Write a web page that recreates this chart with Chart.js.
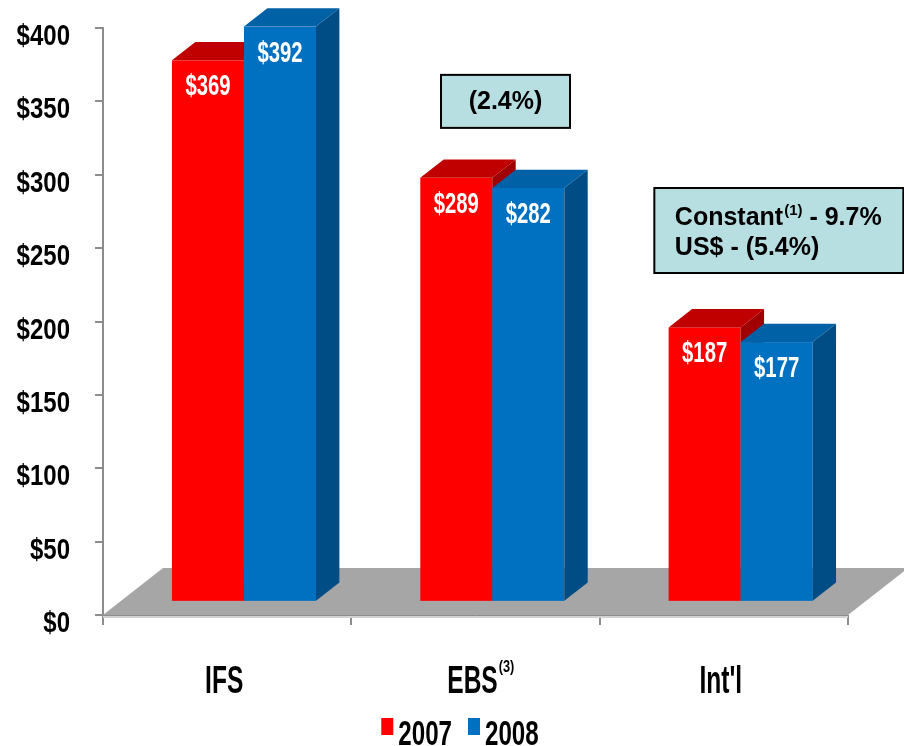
<!DOCTYPE html>
<html>
<head>
<meta charset="utf-8">
<script src="https://cdn.jsdelivr.net/npm/chart.js@4.4.1/dist/chart.umd.min.js"></script>
<style>
  html, body { margin: 0; padding: 0; background: #fff; }
  #wrap { width: 904px; height: 746px; }
</style>
</head>
<body>
<div id="wrap"><canvas id="grafico"></canvas></div>
<script>
// datos
const segmentos = ['IFS', 'EBS', "Int'l"];
const superindices = ['', '(3)', ''];
const anios = ['2007', '2008'];
const ventas2007 = [369, 289, 187];
const ventas2008 = [392, 282, 177];
const ticksY = [0, 50, 100, 150, 200, 250, 300, 350, 400];
const notaEBS = ['(2.4%)'];
const notaIntl = [['Constant', '(1)', ' - 9.7%'], ['US$ - (5.4%)', '', '']];

const FUENTE = '"Liberation Sans", Arial, sans-serif';

const colores = {
  '2007': { frente: '#FF0000', arriba: '#C00000', lado: '#A00000' },
  '2008': { frente: '#0070C0', arriba: '#0061A6', lado: '#004C85' }
};

// profundidad del piso y posicion de las barras dentro de el
const piso = { dx: 60, dy: -47 };
const frenteBarra = 0.28, fondoBarra = 0.39;

// texto en negrita comprimido a lo ancho (estilo Arial Narrow)
const texto = (ctx, str, x, y, size, sx, align) => {
  ctx.save();
  ctx.font = 'bold ' + size + 'px ' + FUENTE;
  ctx.translate(x, y);
  ctx.scale(sx, 1);
  ctx.textAlign = align || 'center';
  ctx.textBaseline = 'alphabetic';
  ctx.fillText(str, 0, 0);
  const w = ctx.measureText(str).width * sx;
  ctx.restore();
  return w;
};

const barras3d = {
  id: 'barras3d',
  beforeDatasetsDraw(chart) {
    const ctx = chart.ctx;
    const x = chart.scales.x, y = chart.scales.y;
    const base = y.getPixelForValue(0);

    ctx.save();
    // piso gris
    ctx.fillStyle = '#A6A6A6';
    ctx.beginPath();
    ctx.moveTo(x.left, base);
    ctx.lineTo(x.left + piso.dx, base + piso.dy);
    ctx.lineTo(x.right + piso.dx, base + piso.dy);
    ctx.lineTo(x.right, base);
    ctx.closePath();
    ctx.fill();
    ctx.fillStyle = '#D2D2D2';
    ctx.fillRect(x.left, base, x.right - x.left, 3);
    ctx.strokeStyle = '#8C8C8C';
    ctx.lineWidth = 1;
    ctx.beginPath();
    ctx.moveTo(x.left, base + 0.5);
    ctx.lineTo(x.right, base + 0.5);
    ctx.stroke();

    const ox = piso.dx * frenteBarra, oy = piso.dy * frenteBarra;
    const px = piso.dx * fondoBarra, py = piso.dy * fondoBarra;

    segmentos.forEach((s, i) => {
      chart.data.datasets.forEach((ds, d) => {
        const el = chart.getDatasetMeta(d).data[i];
        const c = colores[ds.label];
        const l = el.x - el.width / 2 + ox, r = el.x + el.width / 2 + ox;
        const t = el.y + oy, b = el.base + oy;
        // cara frontal
        ctx.fillStyle = c.frente;
        ctx.fillRect(l, t, r - l, b - t);
        // tapa
        ctx.fillStyle = c.arriba;
        ctx.beginPath();
        ctx.moveTo(l, t);
        ctx.lineTo(l + px, t + py);
        ctx.lineTo(r + px, t + py);
        ctx.lineTo(r, t);
        ctx.closePath();
        ctx.fill();
        // lateral
        ctx.fillStyle = c.lado;
        ctx.beginPath();
        ctx.moveTo(r, t);
        ctx.lineTo(r + px, t + py);
        ctx.lineTo(r + px, b + py);
        ctx.lineTo(r, b);
        ctx.closePath();
        ctx.fill();
      });
    });

    // etiquetas de valor
    ctx.fillStyle = '#FFFFFF';
    chart.data.datasets.forEach((ds, d) => {
      chart.getDatasetMeta(d).data.forEach((el, i) => {
        texto(ctx, '$' + ds.data[i], el.x + ox, el.y + oy + 35, 29, 0.7);
      });
    });
    ctx.restore();
    return false;
  },
  afterDraw(chart) {
    const ctx = chart.ctx;
    const x = chart.scales.x, y = chart.scales.y;
    ctx.save();
    ctx.fillStyle = '#000';

    // eje Y
    ticksY.forEach(v => {
      texto(ctx, '$' + v, 70, y.getPixelForValue(v) + 17, 30, 0.8, 'right');
    });

    // categorias
    segmentos.forEach((s, i) => {
      const cx = x.getPixelForValue(i) - 3;
      const w = texto(ctx, s, cx, 693, 39, 0.63);
      if (superindices[i]) texto(ctx, superindices[i], cx + w / 2 + 1, 672, 17, 0.75, 'left');
    });

    // leyenda
    ctx.font = 'bold 35px ' + FUENTE;
    const anchos = anios.map(a => ctx.measureText(a).width * 0.69);
    const total = anchos.reduce((a, b) => a + b, 0) + anios.length * 17 + 16;
    let lx = 460 - total / 2;
    anios.forEach((a, i) => {
      ctx.fillStyle = colores[a].frente;
      ctx.fillRect(lx, 718, 12, 17);
      ctx.fillStyle = '#000';
      texto(ctx, a, lx + 17, 745, 35, 0.69, 'left');
      lx += 17 + anchos[i] + 16;
    });

    // cuadros de nota
    const cuadro = (cx, cy, w, h) => {
      ctx.fillStyle = '#B7DEE1';
      ctx.fillRect(cx - w / 2, cy - h / 2, w, h);
      ctx.strokeStyle = '#000';
      ctx.lineWidth = 2;
      ctx.strokeRect(cx - w / 2, cy - h / 2, w, h);
      ctx.fillStyle = '#000';
    };

    let cx = x.getPixelForValue(1) + 30, cy = y.getPixelForValue(350);
    cuadro(cx, cy, 129, 53);
    ctx.font = 'bold 25px ' + FUENTE;
    ctx.textAlign = 'center';
    ctx.textBaseline = 'middle';
    ctx.fillText(notaEBS[0], cx, cy + 1);

    cx = x.getPixelForValue(2) + 55;
    cy = y.getPixelForValue(262);
    cuadro(cx, cy, 249, 85);
    ctx.textAlign = 'left';
    ctx.textBaseline = 'alphabetic';
    let ty = cy - 6;
    notaIntl.forEach(([a, sup, b]) => {
      let tx = cx - 104;
      ctx.font = 'bold 25px ' + FUENTE;
      ctx.fillText(a, tx, ty);
      tx += ctx.measureText(a).width + 1;
      if (sup) {
        ctx.font = 'bold 15px ' + FUENTE;
        ctx.fillText(sup, tx, ty - 10);
        tx += ctx.measureText(sup).width;
      }
      if (b) {
        ctx.font = 'bold 25px ' + FUENTE;
        ctx.fillText(b, tx, ty);
      }
      ty += 30;
    });
    ctx.restore();
  }
};

const chart = new Chart(document.getElementById('grafico'), {
  type: 'bar',
  data: {
    labels: segmentos,
    datasets: [
      { label: anios[0], data: ventas2007, backgroundColor: colores['2007'].frente },
      { label: anios[1], data: ventas2008, backgroundColor: colores['2008'].frente }
    ]
  },
  options: {
    responsive: true,
    maintainAspectRatio: false,
    animation: false,
    datasets: { bar: { categoryPercentage: 0.58, barPercentage: 1 } },
    layout: { padding: { top: 28, left: 95, right: 56, bottom: 121 } },
    scales: {
      x: {
        grid: { drawOnChartArea: false, tickLength: 10, color: '#8C8C8C', lineWidth: 2 },
        border: { display: false },
        ticks: { display: false }
      },
      y: {
        min: 0,
        max: 400,
        afterBuildTicks: (s) => { s.ticks = ticksY.map(v => ({ value: v })); },
        grid: { drawOnChartArea: false, tickLength: 8, color: '#8C8C8C', lineWidth: 2 },
        border: { display: true, color: '#8C8C8C', width: 2 },
        ticks: { display: false }
      }
    },
    plugins: {
      tooltip: { enabled: false },
      legend: { display: false }
    }
  },
  plugins: [barras3d]
});
</script>
</body>
</html>
